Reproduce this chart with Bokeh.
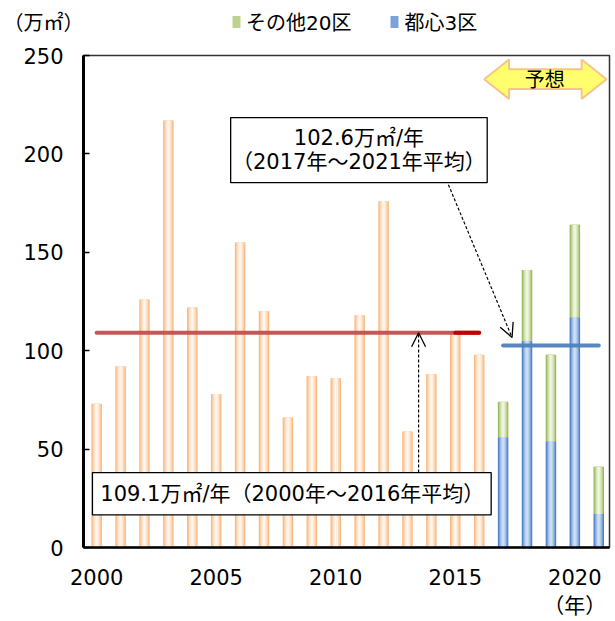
from bokeh.plotting import figure
from bokeh.layouts import column
from bokeh.models import (Range1d, FixedTicker, Label, BoxAnnotation, Arrow,
                          OpenHead, Legend, LegendItem, ColumnDataSource)
from bokeh.embed import file_html
from bokeh.resources import INLINE

# ---------------- data ----------------
years_hist = list(range(2000, 2017))
supply_hist = [73, 92, 126, 217, 122, 78, 155, 120, 66, 87, 86, 118, 176, 59, 88, 109, 98]
years_fc = [2017, 2018, 2019, 2020, 2021]
central3 = [56, 105, 54, 117, 17]          # 都心3区
other20 = [18, 36, 44, 47, 24]             # その他20区
avg_hist = 109.1
avg_fc = 102.6
x_ticks = [2000, 2005, 2010, 2015, 2020]
y_ticks = [0, 50, 100, 150, 200, 250]
legend_labels = ["その他20区", "都心3区"]
note_fc = ["102.6万㎡/年", "（2017年～2021年平均）"]
note_hist = "109.1万㎡/年（2000年～2016年平均）"
unit_y = "（万㎡）"
unit_x = "（年）"
forecast_txt = "予想"

FONT = "DejaVu Sans, Noto Sans CJK JP"

# ---------------- geometry ----------------
W = 613
HH = 36                      # header strip height
ML, MT, FW, FH = 80, 19, 529, 499
H = 621 - HH
X0, X1 = 1999.45, 2021.45
PPY = FW / (X1 - X0)
PPU = FH / 250.0
PAGE_L, PAGE_B = ML, HH + MT + FH


def X(px):
    return X0 + (px - PAGE_L) / PPY


def Y(py):
    return (PAGE_B - py) / PPU


def mix(c1, c2, t):
    a = [int(c1[i:i + 2], 16) for i in (1, 3, 5)]
    b = [int(c2[i:i + 2], 16) for i in (1, 3, 5)]
    return "#%02x%02x%02x" % tuple(round(a[k] + (b[k] - a[k]) * t) for k in range(3))


ORANGE = ("#F9BA82", "#FFF6EE")
BLUE = ("#4F81CC", "#CFE0F5")
GREEN = ("#9BBB59", "#F0F5E4")

# ---------------- header (unit + legend) ----------------
head = figure(width=W, height=HH, output_backend="svg", toolbar_location=None,
              x_range=Range1d(0, FW), y_range=Range1d(0, HH), x_axis_type=None,
              min_border_left=ML, min_border_right=W - ML - FW,
              min_border_top=0, min_border_bottom=0)
head.outline_line_color = None
head.xgrid.visible = False
head.ygrid.visible = False
head.background_fill_color = "white"
head.border_fill_color = "white"
# unit label as the single tick label of the header's left axis
head.yaxis.ticker = FixedTicker(ticks=[HH - 22])
head.yaxis.major_label_overrides = {HH - 22: unit_y}
head.yaxis.axis_line_color = None
head.yaxis.major_tick_line_color = None
head.yaxis.minor_tick_line_color = None
head.yaxis.major_tick_in = 0
head.yaxis.major_tick_out = 0
head.yaxis.major_label_standoff = 0
head.yaxis.major_label_text_font = FONT
head.yaxis.major_label_text_font_size = "20px"
head.yaxis.major_label_text_color = "black"

g_dummy = head.vbar(x=[-1000], top=[0], width=1, fill_color=mix(GREEN[0], GREEN[1], 0.4), line_color=None)
b_dummy = head.vbar(x=[-1000], top=[0], width=1, fill_color=mix(BLUE[0], BLUE[1], 0.35), line_color=None)
legend = Legend(items=[LegendItem(label=legend_labels[0], renderers=[g_dummy]),
                       LegendItem(label=legend_labels[1], renderers=[b_dummy])],
                orientation="horizontal", location=(228 - ML, HH - 24 - 12),
                glyph_width=10, glyph_height=15, label_standoff=5, spacing=38,
                padding=0, margin=0, border_line_color=None, background_fill_alpha=0,
                label_text_font=FONT, label_text_font_size="20px",
                label_text_color="black", label_height=24)
head.add_layout(legend, "center")

# ---------------- main chart ----------------
p = figure(width=W, height=H, output_backend="svg", toolbar_location=None,
           x_range=Range1d(X0, X1), y_range=Range1d(0, 250),
           min_border_left=ML, min_border_right=W - ML - FW,
           min_border_top=MT, min_border_bottom=H - MT - FH)
p.background_fill_color = "white"
p.border_fill_color = "white"
p.outline_line_color = "#333333"
p.outline_line_width = 1.5
p.xgrid.visible = False
p.ygrid.visible = False

BAR_W = 0.44
LAYERS = [(1.0, 0.0), (0.78, 0.35), (0.56, 0.65), (0.34, 0.88), (0.14, 1.0)]

src_h = ColumnDataSource(dict(x=years_hist, top=supply_hist, bottom=[0] * len(years_hist)))
for f, t in LAYERS:
    p.vbar(x="x", top="top", bottom="bottom", width=BAR_W * f, source=src_h,
           fill_color=mix(ORANGE[0], ORANGE[1], t), line_color=None)

total = [a + b for a, b in zip(central3, other20)]
src_f = ColumnDataSource(dict(x=years_fc, c3=central3, tot=total, zero=[0] * len(years_fc)))
for f, t in LAYERS:
    p.vbar(x="x", top="c3", bottom="zero", width=BAR_W * f, source=src_f,
           fill_color=mix(BLUE[0], BLUE[1], t), line_color=None)
    p.vbar(x="x", top="tot", bottom="c3", width=BAR_W * f, source=src_f,
           fill_color=mix(GREEN[0], GREEN[1], t), line_color=None)

# average lines
p.line(x=[years_hist[0], years_hist[-1]], y=[avg_hist, avg_hist], line_color="#C0504D",
       line_alpha=0.95, line_width=4, line_cap="round")
p.line(x=[years_hist[-2], years_hist[-1]], y=[avg_hist, avg_hist], line_color="#C00000",
       line_width=4, line_cap="round")
p.line(x=[years_fc[0], years_fc[-1]], y=[avg_fc, avg_fc], line_color="#4F81BD",
       line_alpha=0.95, line_width=4, line_cap="round")

# forecast double arrow
ax = [483, 508, 508, 581, 581, 606, 581, 581, 508, 508]
ay = [79, 59, 69, 69, 59, 79, 99, 89, 89, 99]
p.patch(x=[X(v) for v in ax], y=[Y(v) for v in ay], fill_color="#FFFF6E",
        line_color="#F7C38A", line_width=2)
p.add_layout(Label(x=X(544), y=Y(80), text=forecast_txt, text_align="center",
                   text_baseline="middle", text_font=FONT, text_font_size="20px",
                   text_color="black"))

# dashed arrows
p.add_layout(Arrow(x_start=X(447), y_start=Y(186), x_end=X(511), y_end=Y(341),
                   line_dash="3 2", line_width=1.2, line_color="black",
                   end=OpenHead(size=14, line_width=1.3, line_color="black")))
p.add_layout(Arrow(x_start=X(417), y_start=Y(478), x_end=X(417), y_end=avg_hist,
                   line_dash="3 2", line_width=1.2, line_color="black",
                   end=OpenHead(size=14, line_width=1.3, line_color="black")))

# note boxes
p.add_layout(BoxAnnotation(left=X(228), right=X(486), top=Y(118), bottom=Y(184),
                           fill_color="white", fill_alpha=1, line_color="black",
                           line_width=1.3, line_alpha=1))
p.add_layout(BoxAnnotation(left=X(89), right=X(490), top=Y(478), bottom=Y(521),
                           fill_color="white", fill_alpha=1, line_color="black",
                           line_width=1.3, line_alpha=1))
for txt, py in zip(note_fc, [139, 163]):
    p.add_layout(Label(x=X(357), y=Y(py), text=txt, text_align="center",
                       text_baseline="middle", text_font=FONT, text_font_size="21px",
                       text_color="black"))
p.add_layout(Label(x=X(290), y=Y(500), text=note_hist, text_align="center",
                   text_baseline="middle", text_font=FONT, text_font_size="21px",
                   text_color="black"))

# axes
p.xaxis.ticker = FixedTicker(ticks=x_ticks)
p.xaxis.major_label_overrides = {x_ticks[-1]: f"{x_ticks[-1]}\n{unit_x}"}
p.yaxis.ticker = FixedTicker(ticks=y_ticks)
for ax_ in (p.xaxis, p.yaxis):
    ax_.major_label_text_font = FONT
    ax_.major_label_text_font_size = "21px"
    ax_.major_label_text_color = "black"
    ax_.axis_line_color = "black"
    ax_.minor_tick_line_color = None
p.yaxis.axis_line_width = 3
p.yaxis.major_tick_in = 6
p.yaxis.major_tick_out = 0
p.yaxis.major_tick_line_width = 1.5
p.yaxis.major_tick_line_color = "black"
p.yaxis.major_label_standoff = 20
p.xaxis.axis_line_width = 2.5
p.xaxis.major_tick_line_color = None
p.xaxis.major_tick_in = 0
p.xaxis.major_tick_out = 0
p.xaxis.major_label_standoff = 18

layout = column(head, p, spacing=0)
open("out.html", "w").write(file_html(layout, INLINE))
